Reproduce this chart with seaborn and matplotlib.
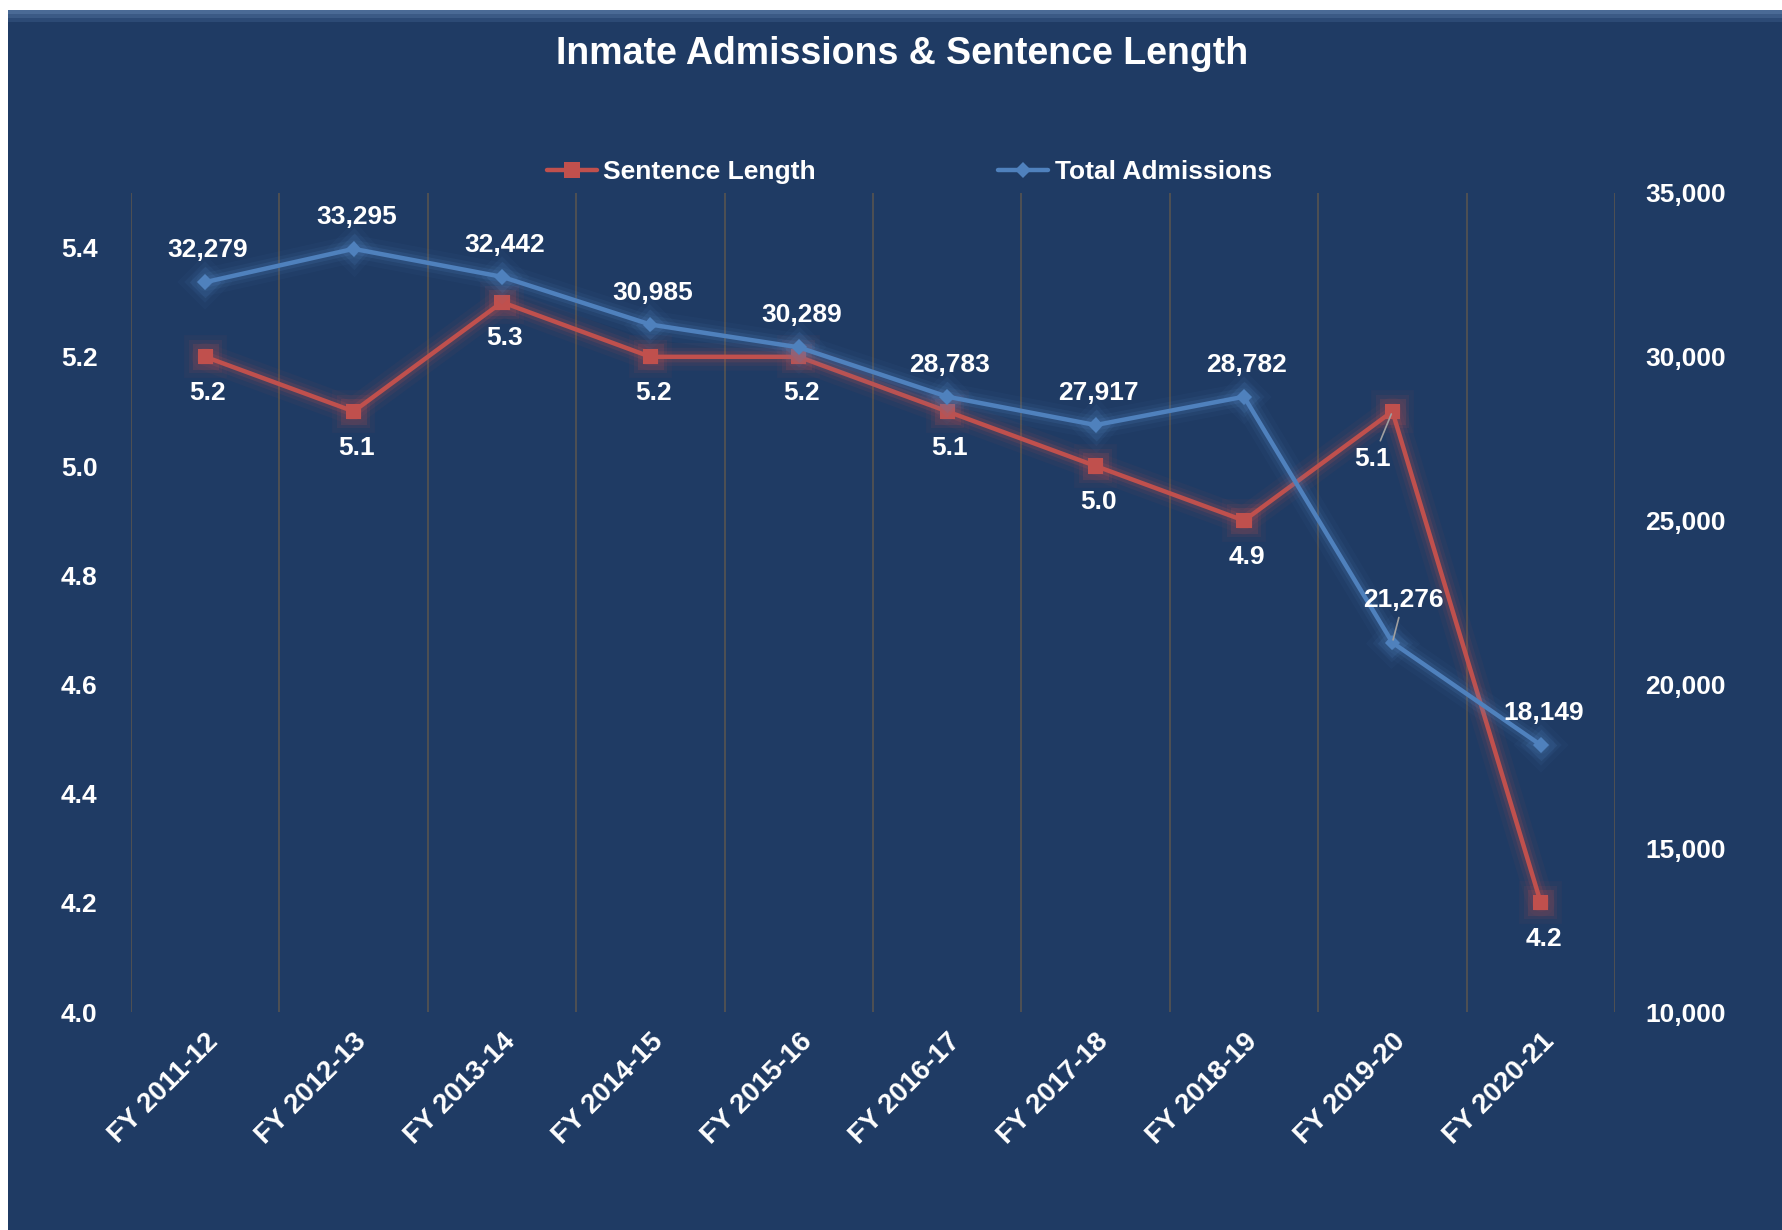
import numpy as np
import pandas as pd
import matplotlib
matplotlib.use("Agg")
import matplotlib.pyplot as plt
import matplotlib.patheffects as pe
from matplotlib.patches import Rectangle
from matplotlib.lines import Line2D
from matplotlib.ticker import FuncFormatter, MultipleLocator
import seaborn as sns

years = ["FY 2011-12", "FY 2012-13", "FY 2013-14", "FY 2014-15", "FY 2015-16",
         "FY 2016-17", "FY 2017-18", "FY 2018-19", "FY 2019-20", "FY 2020-21"]
sentence_length = [5.2, 5.1, 5.3, 5.2, 5.2, 5.1, 5.0, 4.9, 5.1, 4.2]
total_admissions = [32279, 33295, 32442, 30985, 30289, 28783, 27917, 28782, 21276, 18149]

RED = "#C0504D"
BLUE = "#4F81BD"
NAVY = "#1F3B64"
GRID = "#525252"
FS = 19

sns.set_theme(style="white")
plt.rcParams["font.family"] = ["Liberation Sans", "DejaVu Sans"]
plt.rcParams["font.weight"] = "bold"

df = pd.DataFrame({"year": years, "sentence": sentence_length, "admissions": total_admissions})
df["pos"] = np.arange(len(years))

fig = plt.figure(figsize=(17.83, 12.30), dpi=100, facecolor="white")
# chart frame
fig.patches.append(Rectangle((8 / 1783, 0), 1 - 8 / 1783, 1 - 10 / 1230,
                             transform=fig.transFigure, facecolor=NAVY,
                             edgecolor="none", zorder=-10))
fig.patches.append(Rectangle((8 / 1783, 1 - 11 / 1230), 1 - 8 / 1783, 1 / 1230,
                             transform=fig.transFigure, facecolor="#BFC5CC",
                             edgecolor="none", zorder=-9))
for k, (h, c) in enumerate([(4, "#4A6A95"), (4, "#3B5A85"), (4, "#2C4A75")]):
    fig.patches.append(Rectangle((8 / 1783, 1 - (10 + 4 * (k + 1)) / 1230), 1 - 8 / 1783, h / 1230,
                                 transform=fig.transFigure, facecolor=c,
                                 edgecolor="none", zorder=-9))

left, right, top, bottom = 131 / 1783, 1615 / 1783, 1 - 193 / 1230, 1 - 1012 / 1230
ax = fig.add_axes([left, bottom, right - left, top - bottom])
ax2 = ax.twinx()
for a in (ax, ax2):
    a.set_facecolor("none")
    for s in a.spines.values():
        s.set_visible(False)

def glow(color):
    return [pe.Stroke(linewidth=20, foreground=color, alpha=0.05),
            pe.Stroke(linewidth=13, foreground=color, alpha=0.09),
            pe.Stroke(linewidth=8, foreground=color, alpha=0.16),
            pe.Normal()]

sns.lineplot(data=df, x="pos", y="sentence", ax=ax, color=RED, lw=3.2,
             marker="s", markersize=11, markeredgewidth=0, markeredgecolor=RED,
             path_effects=glow(RED), legend=False)
sns.lineplot(data=df, x="pos", y="admissions", ax=ax2, color=BLUE, lw=3.2,
             marker="D", markersize=8, markeredgewidth=0, markeredgecolor=BLUE,
             path_effects=glow(BLUE), legend=False)

ax.set_xlim(-0.5, len(years) - 0.5)
ax.set_ylim(4.0, 5.5)
ax2.set_ylim(10000, 35000)
ax.yaxis.set_major_locator(MultipleLocator(0.2))
ax.yaxis.set_major_formatter(FuncFormatter(lambda v, p: f"{v:.1f}"))
ax2.yaxis.set_major_locator(MultipleLocator(5000))
ax2.yaxis.set_major_formatter(FuncFormatter(lambda v, p: f"{v:,.0f}"))
ax.set_xlabel("")
ax.set_ylabel("")
ax2.set_ylabel("")

ax.set_xticks(np.arange(len(years)))
ax.set_xticklabels(years, rotation=45, ha="right", va="top", rotation_mode="anchor")
ax.set_xticks(np.arange(-0.5, len(years)), minor=True)
ax.grid(False)
ax2.grid(False)
ax.grid(which="minor", axis="x", color=GRID, lw=1.3)
ax.tick_params(axis="x", which="both", length=0, pad=12, labelsize=20, labelcolor="white")
ax.tick_params(axis="y", length=0, pad=24, labelsize=FS, labelcolor="white")
ax2.tick_params(axis="y", length=0, pad=22, labelsize=FS, labelcolor="white")
for lab in ax.get_xticklabels() + ax.get_yticklabels() + ax2.get_yticklabels():
    lab.set_fontweight("bold")
    lab.set_color("white")
ax2.set_zorder(ax.get_zorder() + 1)

# data labels
lab_kw = dict(textcoords="offset points", ha="center", va="center",
              fontsize=FS, fontweight="bold", color="white")
for i, v in enumerate(total_admissions):
    if i == 8:
        ax2.annotate(f"{v:,}", (i, v), xytext=(8, 31),
                     arrowprops=dict(arrowstyle="-", color="#A0A0A0", lw=1.2,
                                     shrinkA=2, shrinkB=2), **lab_kw)
    else:
        ax2.annotate(f"{v:,}", (i, v), xytext=(2, 23), **lab_kw)
for i, v in enumerate(sentence_length):
    if i == 8:
        ax.annotate(f"{v:.1f}", (i, v), xytext=(-14, -34),
                    arrowprops=dict(arrowstyle="-", color="#A0A0A0", lw=1.2,
                                    shrinkA=2, shrinkB=2), **lab_kw)
    else:
        ax.annotate(f"{v:.1f}", (i, v), xytext=(2, -26), **lab_kw)

fig.text(0.506, 1 - 54 / 1230, "Inmate Admissions & Sentence Length", ha="center",
         va="center", fontsize=27, fontweight="bold", color="white")

handles = [Line2D([], [], color=RED, lw=3.2, marker="s", markersize=11, markeredgewidth=0),
           Line2D([], [], color=BLUE, lw=3.2, marker="D", markersize=8, markeredgewidth=0)]
fig.legend(handles, ["Sentence Length", "Total Admissions"], loc="center",
           bbox_to_anchor=(0.510, 1 - 172 / 1230), ncol=2, frameon=False,
           handlelength=1.9, handletextpad=0.25, columnspacing=6.9,
           prop={"size": FS, "weight": "bold"}, labelcolor="white")

fig.savefig("out.png", dpi=100, facecolor=fig.get_facecolor())
